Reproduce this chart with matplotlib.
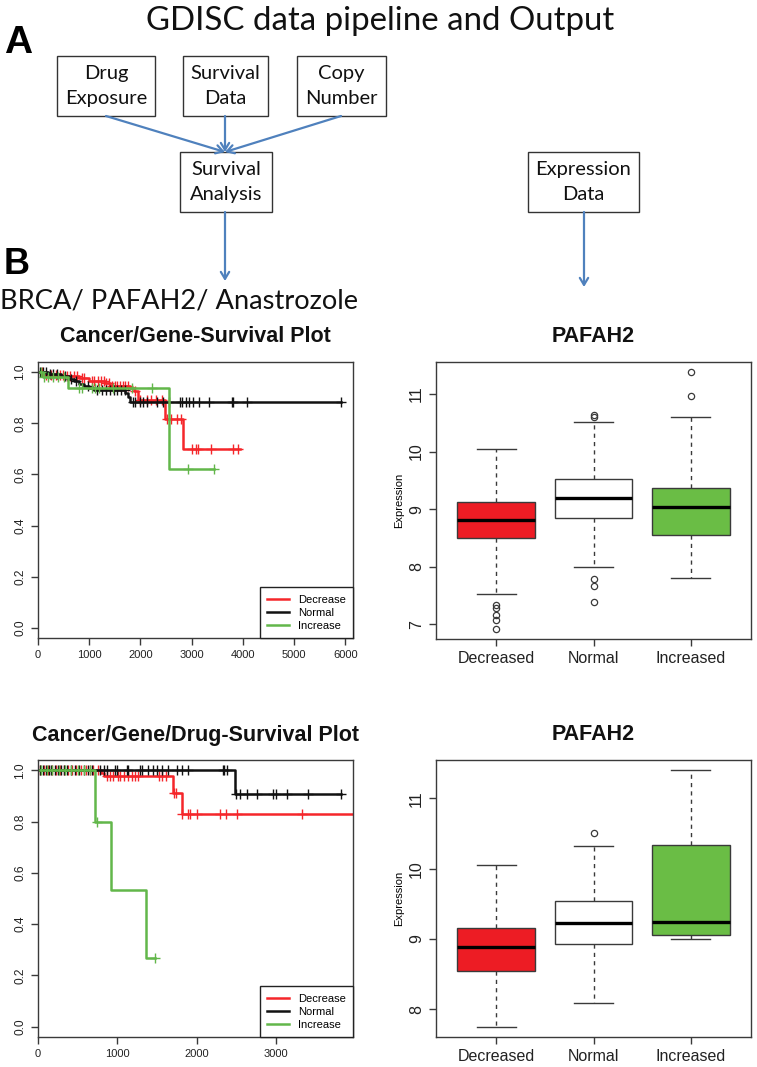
import numpy as np
import matplotlib
matplotlib.use('Agg')
import matplotlib.pyplot as plt
from matplotlib.patches import Rectangle

W, H = 757, 1067

# ---- survival curves, all patients (top left) ----
km1_dec_t = [0, 100, 500, 800, 1000, 1300, 1400, 1800, 1870, 1950, 2470, 2840]
km1_dec_s = [1.0, 0.99, 0.985, 0.977, 0.967, 0.958, 0.948, 0.94, 0.926, 0.89, 0.817, 0.70]
km1_dec_end = 3940
km1_dec_cens = [80, 150, 250, 350, 420, 480, 560, 620, 700, 760, 850, 900, 1050, 1100, 1180,
                1230, 1280, 1330, 1380, 1450, 1500, 1550, 1600, 1650, 1700, 1760, 1900, 2000,
                2120, 2200, 2300, 2420, 2510, 2600, 2720, 2800, 3000, 3090, 3130, 3370, 3810, 3910]
km1_nor_t = [0, 200, 450, 600, 700, 800, 900, 1000, 1100, 1700, 1750, 1800]
km1_nor_s = [1.0, 0.995, 0.985, 0.975, 0.965, 0.955, 0.945, 0.94, 0.932, 0.92, 0.905, 0.884]
km1_nor_end = 5920
km1_nor_cens = [30, 90, 150, 230, 300, 380, 520, 650, 750, 980, 1150, 1250, 1320, 1400, 1480,
                1550, 1620, 1690, 1850, 1900, 1990, 2050, 2120, 2320, 2450, 2550, 2770, 2820,
                2880, 2950, 3030, 3150, 3330, 3780, 3810, 4085, 5920]
km1_inc_t = [0, 100, 580, 2560]
km1_inc_s = [1.0, 0.98, 0.937, 0.623]
km1_inc_end = 3440
km1_inc_cens = [50, 120, 200, 300, 400, 500, 800, 860, 1050, 1120, 1200, 1470, 1830, 2230,
                2935, 3440]

# ---- survival curves, drug-exposed patients (bottom left) ----
km2_dec_t = [0, 790, 830, 1700, 1810]
km2_dec_s = [1.0, 0.99, 0.977, 0.912, 0.83]
km2_dec_end = 3973
km2_dec_cens = [30, 80, 130, 180, 230, 280, 330, 380, 430, 480, 540, 600, 650, 700, 763,
                870, 910, 950, 1010, 1030, 1080, 1130, 1180, 1220, 1260, 1520, 1560, 1620,
                1710, 1740, 1811, 1890, 1915, 2010, 2295, 2365, 2510, 3335]
km2_nor_t = [0, 2480]
km2_nor_s = [1.0, 0.908]
km2_nor_end = 3820
km2_nor_cens = [20, 60, 100, 140, 170, 210, 250, 290, 330, 370, 420, 470, 520, 580, 630, 680,
                784, 834, 868, 973, 994, 1120, 1141, 1287, 1308, 1392, 1455, 1497, 1560, 1643,
                1748, 1811, 1895, 2330, 2350, 2380, 2495, 2545, 2630, 2760, 2965, 3005, 3145,
                3405, 3825]
km2_inc_t = [0, 720, 915, 1360]
km2_inc_s = [1.0, 0.8, 0.533, 0.267]
km2_inc_end = 1480
km2_inc_cens = [40, 110, 180, 260, 340, 420, 500, 580, 650, 742, 1476]

km_groups = ['Decrease', 'Normal', 'Increase']
km_colors = ['#f5262a', '#111111', '#62b74a']

# ---- expression box plots (right) ----
box_labels = ['Decreased', 'Normal', 'Increased']
box_fill = ['#ed1c24', '#ffffff', '#6abd45']

box1_med = [8.81, 9.19, 9.03]
box1_q1 = [8.49, 8.85, 8.55]
box1_q3 = [9.13, 9.52, 9.37]
box1_lo = [7.53, 8.00, 7.81]
box1_hi = [10.05, 10.51, 10.60]
box1_out = [[7.33, 7.28, 7.16, 7.07, 6.92], [10.61, 10.63, 7.78, 7.66, 7.39], [10.97, 11.38]]

box2_med = [8.89, 9.22, 9.24]
box2_q1 = [8.54, 8.93, 9.05]
box2_q3 = [9.16, 9.54, 10.33]
box2_lo = [7.75, 8.09, 9.00]
box2_hi = [10.05, 10.32, 11.40]
box2_out = [[], [10.51], []]

CAL = ['Lato', 'DejaVu Sans']
ARI = ['Liberation Sans', 'DejaVu Sans']
BLUE = '#4f81bd'
FRAME = '#3a3a3a'


def pix_box(l, t, r, b):
    return [l / W, 1 - b / H, (r - l) / W, (b - t) / H]


fig = plt.figure(figsize=(W / 100, H / 100), dpi=100)

# overlay in pixel coordinates for the flow chart and headings
ov = fig.add_axes([0, 0, 1, 1])
ov.set_xlim(0, W)
ov.set_ylim(H, 0)
ov.axis('off')

ov.text(380, 21, 'GDISC data pipeline and Output', ha='center', va='center',
        fontsize=23.8, family=CAL, color='#111')
ov.text(4, 43, 'A', ha='left', va='center', fontsize=28, fontweight='bold', family=ARI)
ov.text(4, 265, 'B', ha='left', va='center', fontsize=26, fontweight='bold', family=ARI)
ov.text(0, 301, 'BRCA/ PAFAH2/ Anastrozole', ha='left', va='center',
        fontsize=19.6, family=CAL, color='#111')

flow_boxes = [
    ('Drug\nExposure', 57, 56, 155, 116),
    ('Survival\nData', 183, 56, 268, 116),
    ('Copy\nNumber', 297, 56, 386, 116),
    ('Survival\nAnalysis', 180, 152, 272, 212),
    ('Expression\nData', 528, 152, 639, 212),
]
for label, l, t, r, b in flow_boxes:
    ov.add_patch(Rectangle((l, t), r - l, b - t, fill=False, ec='#333', lw=1.0))
    ov.text((l + r) / 2, (t + b) / 2, label, ha='center', va='center', fontsize=14.5,
            family=CAL, linespacing=1.55, color='#111')

arrow_kw = dict(arrowstyle='->,head_length=0.5,head_width=0.3', color=BLUE, lw=1.6,
                shrinkA=0, shrinkB=0)
for x0 in [106, 225, 341]:
    ov.annotate('', xy=(225, 152), xytext=(x0, 116), arrowprops=arrow_kw)
ov.annotate('', xy=(225, 281), xytext=(225, 212), arrowprops=arrow_kw)
ov.annotate('', xy=(584, 287), xytext=(584, 212), arrowprops=arrow_kw)


def style_axes(ax):
    for s in ax.spines.values():
        s.set_color(FRAME)
        s.set_linewidth(1.0)
    ax.tick_params(direction='out', length=5, width=1, color=FRAME, colors='#222')


def draw_km(ax, curves, xmax, xticks):
    for (t, s, end, cens), name, col in zip(curves, km_groups, km_colors):
        t = np.asarray(t, float)
        s = np.asarray(s, float)
        ax.step(np.append(t, end), np.append(s, s[-1]), where='post', color=col, lw=1.8,
                label=name)
        c = np.asarray(cens, float)
        cy = s[np.searchsorted(t, c, side='right') - 1]
        ax.plot(c, cy, ls='none', marker='+', ms=7, mew=1.0, color=col)
    ax.set_xlim(0, xmax)
    ax.set_ylim(-0.04, 1.04)
    ax.set_xticks(xticks)
    ax.set_xticklabels([str(v) for v in xticks], family=ARI, fontsize=8)
    yt = [0.0, 0.2, 0.4, 0.6, 0.8, 1.0]
    ax.set_yticks(yt)
    ax.set_yticklabels(['%.1f' % v for v in yt], family=ARI, fontsize=8.6, rotation=90,
                       va='center')
    style_axes(ax)
    leg = ax.legend(loc='lower right', borderaxespad=0, fancybox=False, framealpha=1,
                    edgecolor='#222', prop={'family': ARI, 'size': 8}, handlelength=2.0,
                    labelspacing=0.28, borderpad=0.65, handletextpad=0.8)
    leg.get_frame().set_linewidth(1.0)


def draw_box(ax, med, q1, q3, lo, hi, out):
    stats = []
    for i in range(3):
        stats.append(dict(med=med[i], q1=q1[i], q3=q3[i], whislo=lo[i], whishi=hi[i],
                          fliers=out[i]))
    bp = ax.bxp(stats, positions=[1, 2, 3], widths=0.8, capwidths=0.4, patch_artist=True,
                boxprops=dict(ec=FRAME, lw=1.0),
                whiskerprops=dict(color=FRAME, lw=1.0, ls=(0, (3, 3))),
                capprops=dict(color=FRAME, lw=1.0),
                medianprops=dict(color='black', lw=2.4),
                flierprops=dict(marker='o', mfc='none', mec=FRAME, ms=4.5, mew=0.9))
    for patch, fc in zip(bp['boxes'], box_fill):
        patch.set_facecolor(fc)
    allv = np.concatenate([lo, hi] + [np.asarray(o, float) for o in out if len(o)])
    pad = 0.04 * (allv.max() - allv.min())
    ax.set_ylim(allv.min() - pad, allv.max() + pad)
    ax.set_xlim(0.38, 3.62)
    ax.set_xticks([1, 2, 3])
    ax.set_xticklabels(box_labels, family=ARI, fontsize=11.5)
    yt = np.arange(np.ceil(allv.min()), np.floor(allv.max()) + 1)
    ax.set_yticks(yt)
    ax.set_yticklabels(['%d' % v for v in yt], family=ARI, fontsize=11.5, rotation=90,
                       va='center')
    ax.set_ylabel('Expression', family=ARI, fontsize=8, labelpad=4)
    style_axes(ax)


km1 = fig.add_axes(pix_box(38, 362, 353, 638))
draw_km(km1, [(km1_dec_t, km1_dec_s, km1_dec_end, km1_dec_cens),
              (km1_nor_t, km1_nor_s, km1_nor_end, km1_nor_cens),
              (km1_inc_t, km1_inc_s, km1_inc_end, km1_inc_cens)],
        6150, [0, 1000, 2000, 3000, 4000, 5000, 6000])

km2 = fig.add_axes(pix_box(38, 760, 353, 1037))
draw_km(km2, [(km2_dec_t, km2_dec_s, km2_dec_end, km2_dec_cens),
              (km2_nor_t, km2_nor_s, km2_nor_end, km2_nor_cens),
              (km2_inc_t, km2_inc_s, km2_inc_end, km2_inc_cens)],
        3973, [0, 1000, 2000, 3000])

bx1 = fig.add_axes(pix_box(436, 362, 751, 639))
draw_box(bx1, box1_med, box1_q1, box1_q3, box1_lo, box1_hi, box1_out)

bx2 = fig.add_axes(pix_box(436, 760, 751, 1037))
draw_box(bx2, box2_med, box2_q1, box2_q3, box2_lo, box2_hi, box2_out)

# panel titles
for x, y, txt in [(195, 337, 'Cancer/Gene-Survival Plot'), (593, 337, 'PAFAH2'),
                  (195, 735, 'Cancer/Gene/Drug-Survival Plot'), (593, 735, 'PAFAH2')]:
    ov.text(x, y, txt, ha='center', va='center', fontsize=15.5, fontweight='bold',
            family=ARI, color='#111')

fig.savefig('out.png', dpi=100)
